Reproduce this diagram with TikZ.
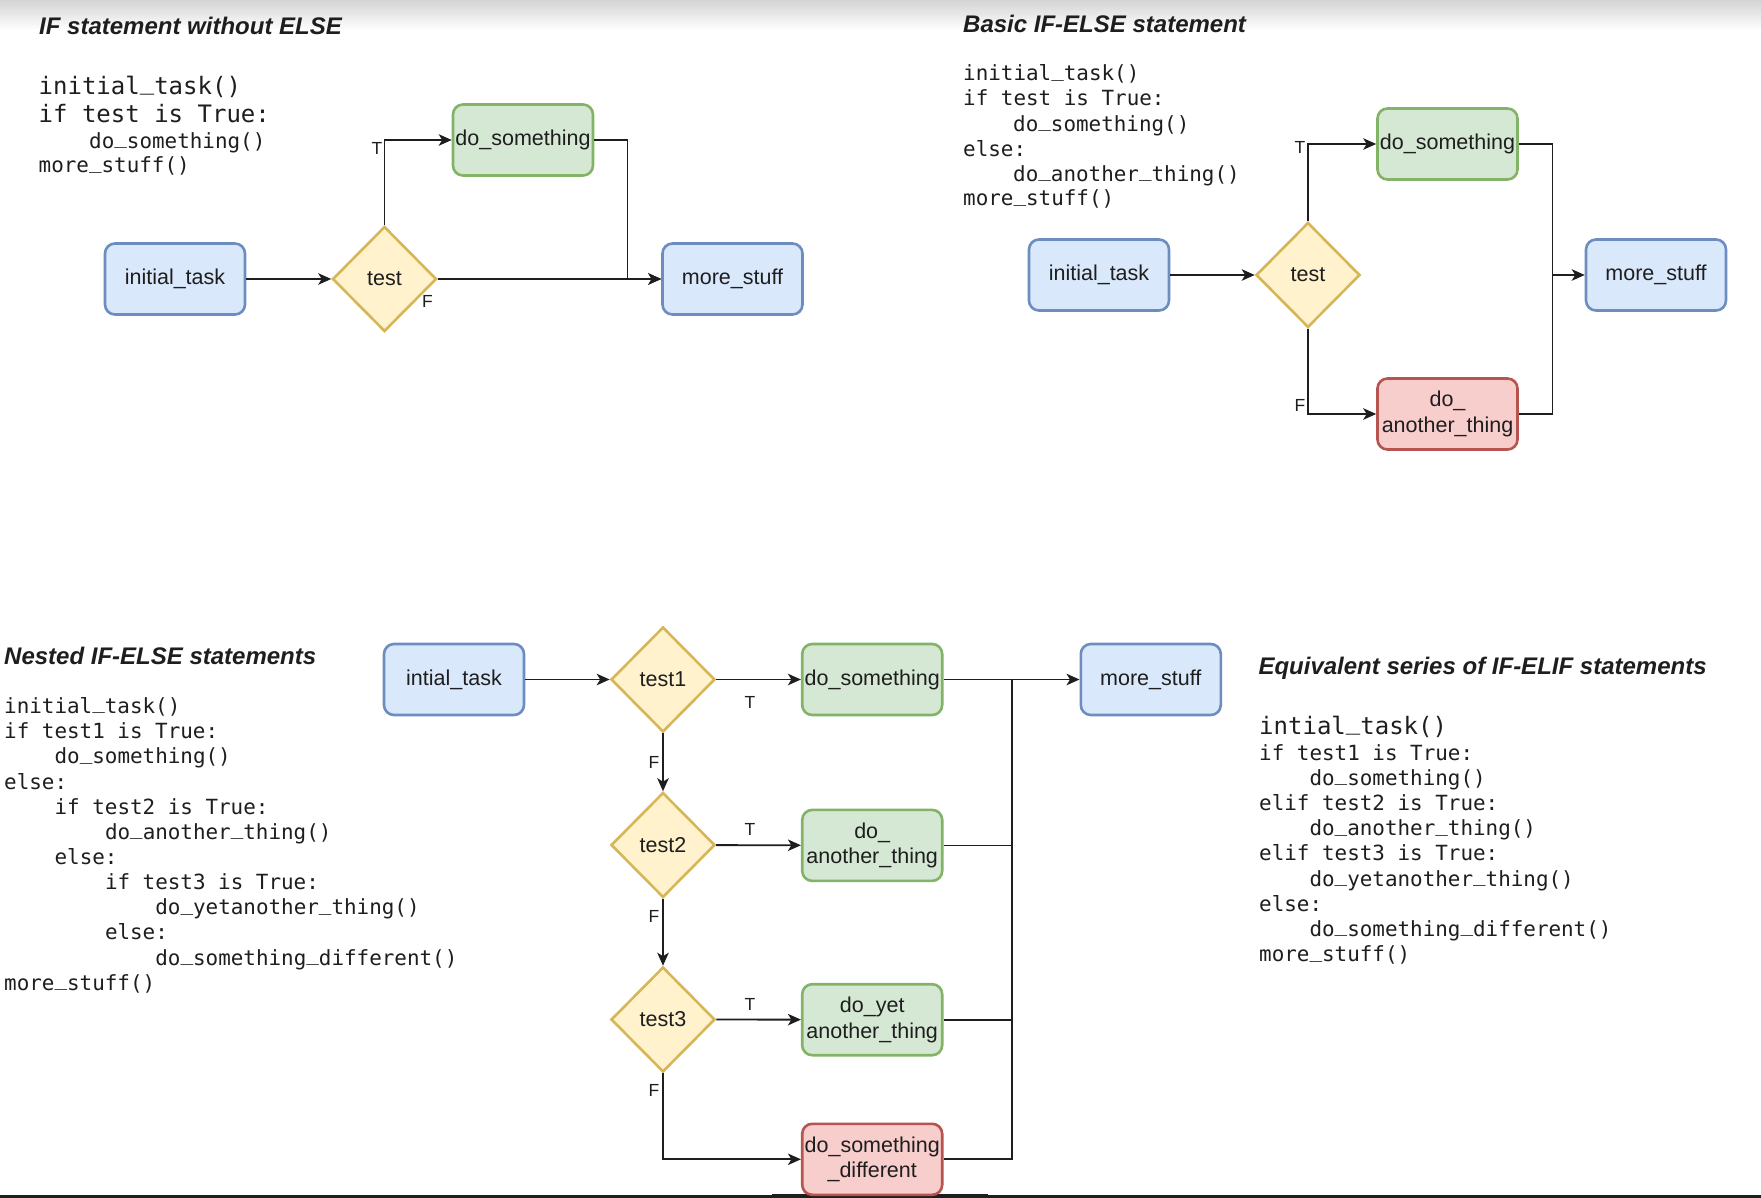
\documentclass[tikz,border=0pt]{standalone}
\usepackage{fontspec}
\usetikzlibrary{shapes.geometric,arrows.meta}
\setmainfont{Liberation Sans}
\newfontfamily\codefam{DejaVu Sans Mono}
\newfontfamily\diafam{Liberation Sans}
\newcommand\boxfont{\diafam\fontsize{21.5}{25.5}\selectfont}
\newcommand\codesmall{\codefam\fontsize{20.9}{25}\selectfont}
\newcommand\codelarge{\codefam\fontsize{24}{28}\selectfont}
\newcommand\headfont{\diafam\bfseries\itshape\fontsize{24}{28}\selectfont}
\newcommand\tffont{\diafam\fontsize{17.5}{20}\selectfont}
% underscore sitting on the baseline in code listings
\newcommand\us{\raisebox{0.22em}{\_}}
\definecolor{blueFill}{HTML}{DAE8FC}\definecolor{blueLine}{HTML}{6C8EBF}
\definecolor{greenFill}{HTML}{D5E8D4}\definecolor{greenLine}{HTML}{82B366}
\definecolor{yellowFill}{HTML}{FFF2CC}\definecolor{yellowLine}{HTML}{D6B656}
\definecolor{redFill}{HTML}{F8CECC}\definecolor{redLine}{HTML}{B85450}
\definecolor{ink}{HTML}{1E1E1E}
\tikzset{
  taskbox/.style={rounded corners=10pt, line width=2.6pt, minimum width=140pt,
    minimum height=71pt, inner sep=0pt, align=center, font=\boxfont, text=ink},
  bluebox/.style={taskbox, draw=blueLine, fill=blueFill},
  greenbox/.style={taskbox, draw=greenLine, fill=greenFill},
  redbox/.style={taskbox, draw=redLine, fill=redFill},
  decision/.style={diamond, aspect=1, draw=yellowLine, fill=yellowFill, line width=2.6pt,
    minimum width=104pt, minimum height=105pt, inner sep=0pt, font=\boxfont, text=ink},
  wire/.style={draw=ink, line width=1.8pt},
  flow/.style={wire, -{Stealth[length=13pt, width=11.5pt, inset=3.5pt]}},
  tf/.style={font=\tffont, text=ink, inner sep=0pt},
  codeS/.style={font=\codesmall, text=ink, anchor=base west, inner sep=0pt},
  codeL/.style={font=\codelarge, text=ink, anchor=base west, inner sep=0pt},
  heading/.style={font=\headfont, text=ink, anchor=base west, inner sep=0pt},
}
\begin{document}
\begin{tikzpicture}[x=1pt, y=-1pt]
  \useasboundingbox (0,0) rectangle (1761,1198);
  \fill[white] (0,0) rectangle (1761,1198);
  \shade[top color=black!17, bottom color=white] (0,0) rectangle (1761,30);
  \draw[line width=3pt, ink] (0,1196.5) -- (1761,1196.5);
  \draw[line width=5pt, ink] (772,1196.5) -- (988,1196.5);

  % ---------- IF without ELSE ----------
  \node[heading] (h1) at (39,35) {IF statement without ELSE};
  \node[codeL] (a1) at (38.5,94.3) {initial\us task()};
  \node[codeL] (a2) at (38.5,122.5) {if test is True:};
  \node[codeS] (a3) at (89,148.5) {do\us something()};
  \node[codeS] (a4) at (38.5,173) {more\us stuff()};

  \node[bluebox] (Ainit) at (175,279) {initial\_task};
  \node[decision] (Atest) at (384.5,279) {test};
  \node[greenbox] (Ado) at (523,140) {do\_something};
  \node[bluebox] (Amore) at (732.5,279) {more\_stuff};
  \coordinate (Aj) at (627.5,279);

  \draw[flow] (Ainit) -- (Atest);
  \draw[flow] (Atest.north) |- (Ado.west);
  \draw[flow] (Atest.east) -- (Amore.west);
  \draw[flow] (Ado.east) -| (Aj) -- (Amore.west);
  \node[tf] (AT) at (377,148.5) {T};
  \node[tf] (AF) at (427.5,301.5) {F};

  % ---------- Basic IF-ELSE ----------
  \node[heading] (h2) at (963,33) {Basic IF-ELSE statement};
  \node[codeS] (b1) at (963,81) {initial\us task()};
  \node[codeS] (b2) at (963,106) {if test is True:};
  \node[codeS] (b3) at (1013,131.5) {do\us something()};
  \node[codeS] (b4) at (963,156.5) {else:};
  \node[codeS] (b5) at (1013,181.5) {do\us another\us thing()};
  \node[codeS] (b6) at (963,206) {more\us stuff()};

  \node[bluebox] (Binit) at (1099,275) {initial\_task};
  \node[decision] (Btest) at (1308,275) {test};
  \node[greenbox] (Bdo) at (1447.5,144) {do\_something};
  \node[redbox] (Balt) at (1447.5,414) {do\_\\another\_thing};
  \node[bluebox] (Bmore) at (1656,275) {more\_stuff};
  \coordinate (Bj) at (1552.5,275);

  \draw[flow] (Binit) -- (Btest);
  \draw[flow] (Btest.north) |- (Bdo.west);
  \draw[flow] (Btest.south) |- (Balt.west);
  \draw[wire] (Bdo.east) -| (Bj);
  \draw[wire] (Balt.east) -| (Bj);
  \draw[flow] (Bj) -- (Bmore.west);
  \node[tf] (BT) at (1300,147) {T};
  \node[tf] (BF) at (1300,405) {F};

  % ---------- Nested IF-ELSE ----------
  \node[heading] (h3) at (4,664) {Nested IF-ELSE statements};
  \node[codeS] (c1) at (4,713.5) {initial\us task()};
  \node[codeS] (c2) at (4,738.7) {if test1 is True:};
  \node[codeS] (c3) at (54.4,763.8) {do\us something()};
  \node[codeS] (c4) at (4,789) {else:};
  \node[codeS] (c5) at (54.4,814.1) {if test2 is True:};
  \node[codeS] (c6) at (104.8,839.3) {do\us another\us thing()};
  \node[codeS] (c7) at (54.4,864.4) {else:};
  \node[codeS] (c8) at (104.8,889.6) {if test3 is True:};
  \node[codeS] (c9) at (155.2,914.7) {do\us yetanother\us thing()};
  \node[codeS] (c10) at (104.8,939.9) {else:};
  \node[codeS] (c11) at (155.2,965) {do\us something\us different()};
  \node[codeS] (c12) at (4,990.2) {more\us stuff()};

  \node[bluebox] (Cinit) at (454,679.5) {intial\_task};
  \node[decision] (Ct1) at (663,679.5) {test1};
  \node[decision] (Ct2) at (663,845) {test2};
  \node[decision] (Ct3) at (663,1019.5) {test3};
  \node[greenbox] (Cdo) at (872.2,679.5) {do\_something};
  \node[greenbox] (Calt) at (872.2,845.4) {do\_\\another\_thing};
  \node[greenbox] (Cyet) at (872.2,1019.7) {do\_yet\\another\_thing};
  \node[redbox] (Cdiff) at (872.2,1159.3) {do\_something\\\_different};
  \node[bluebox] (Cmore) at (1150.8,679.5) {more\_stuff};
  \coordinate (Cj) at (1011.7,679.5);

  \draw[flow] (Cinit) -- (Ct1);
  \draw[flow] (Ct1) -- (Cdo);
  \draw[flow] (Ct1) -- (Ct2);
  \draw[flow] (Ct2) -- (Calt);
  \draw[flow] (Ct2) -- (Ct3);
  \draw[flow] (Ct3) -- (Cyet);
  \draw[flow] (Ct3.south) |- (Cdiff.west);
  \draw[flow] (Cdo.east) -- (Cmore.west);
  \draw[wire] (Cdiff.east) -| (Cj);
  \draw[wire] (Calt.east) -- (Calt.east -| Cj);
  \draw[wire] (Cyet.east) -- (Cyet.east -| Cj);
  \node[tf] (CT1) at (750,702) {T};
  \node[tf] (CT2) at (750,829) {T};
  \node[tf] (CT3) at (750,1004) {T};
  \node[tf] (CF1) at (654,762) {F};
  \node[tf] (CF2) at (654,916.6) {F};
  \node[tf] (CF3) at (654,1090) {F};

  % ---------- IF-ELIF series ----------
  \node[heading] (h4) at (1258.3,674.3) {Equivalent series of IF-ELIF statements};
  \node[codeL] (d1) at (1259,734.5) {intial\us task()};
  \node[codeS] (d2) at (1259,760) {if test1 is True:};
  \node[codeS] (d3) at (1309.3,785.2) {do\us something()};
  \node[codeS] (d4) at (1259,810.4) {elif test2 is True:};
  \node[codeS] (d5) at (1309.3,835.6) {do\us another\us thing()};
  \node[codeS] (d6) at (1259,860.8) {elif test3 is True:};
  \node[codeS] (d7) at (1309.3,886) {do\us yetanother\us thing()};
  \node[codeS] (d8) at (1259,911.2) {else:};
  \node[codeS] (d9) at (1309.3,936.4) {do\us something\us different()};
  \node[codeS] (d10) at (1259,961.6) {more\us stuff()};
\end{tikzpicture}
\end{document}
